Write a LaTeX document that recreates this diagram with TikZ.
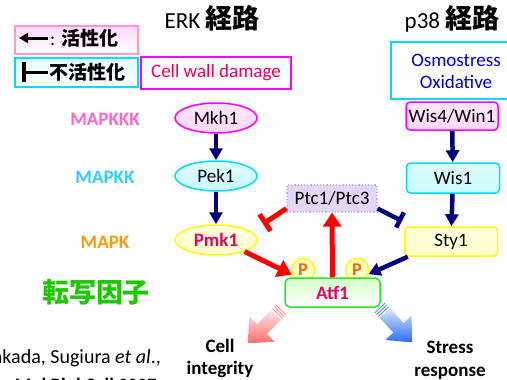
\documentclass[tikz,border=0pt]{standalone}
\usepackage{fontspec}
\setmainfont{Carlito}
\newfontfamily\jp{Noto Sans CJK JP}
\usetikzlibrary{arrows.meta,shapes.geometric,calc}
\definecolor{navyc}{RGB}{0,0,128}
\definecolor{redc}{RGB}{255,0,0}
\definecolor{crim}{RGB}{232,0,100}
\definecolor{magb}{RGB}{255,0,255}
\definecolor{pinkb}{RGB}{255,150,210}
\definecolor{cyanb}{RGB}{0,220,255}
\definecolor{yelb}{RGB}{255,255,0}
\definecolor{greenb}{RGB}{40,230,40}
\definecolor{pinkf}{RGB}{255,215,250}
\definecolor{cyanf}{RGB}{200,250,255}
\definecolor{yelf}{RGB}{255,255,200}
\definecolor{greenf}{RGB}{215,255,200}
\definecolor{lavf}{RGB}{226,214,244}
\definecolor{lavb}{RGB}{200,180,230}
\definecolor{mapkkk}{RGB}{255,102,204}
\definecolor{mapkk}{RGB}{51,204,255}
\definecolor{mapk}{RGB}{255,153,0}
\definecolor{tfgreen}{RGB}{30,200,0}
\definecolor{osmblue}{RGB}{0,0,210}
\definecolor{porange}{RGB}{255,100,0}
\definecolor{fpinkL}{RGB}{255,230,230}
\definecolor{fpinkD}{RGB}{255,110,110}
\definecolor{fblueL}{RGB}{215,230,255}
\definecolor{fblueD}{RGB}{40,110,255}
\tikzset{
  every node/.style={font=\fontsize{19}{21}\selectfont, inner sep=0pt},
  ell/.style={ellipse, minimum width=82pt, minimum height=30pt, line width=1.5pt},
  rbox/.style={rectangle, rounded corners=4pt, minimum width=93pt, minimum height=29pt, line width=1.5pt},
  navyarr/.style={draw=navyc, line width=4.5pt, -{Triangle[width=13pt,length=12pt]}},
  redarr/.style={draw=redc, line width=5pt, -{Triangle[width=18pt,length=14pt]}},
  redbar/.style={draw=redc, line width=5pt, -{Bar[width=20pt,line width=5pt]}},
  navybar/.style={draw=navyc, line width=4.5pt, -{Bar[width=17pt,line width=4.5pt]}},
  lvl/.style={font=\fontsize{19}{21}\selectfont\bfseries},
  pc/.style={circle, minimum size=23pt, draw=yelb, line width=1.5pt, fill=yelf, text=porange, font=\fontsize{18}{20}\selectfont\bfseries},
  outlbl/.style={anchor=base, font=\fontsize{19}{21}\selectfont\bfseries}
}
\begin{document}
\begin{tikzpicture}[x=1pt,y=-1pt]
\useasboundingbox (0,0) rectangle (507,380);

% legend
\node[draw=pinkb, line width=1.5pt, top color=pinkf, bottom color=white, minimum width=123pt, minimum height=28pt, anchor=north west] (leg1) at (14,25) {};
\coordinate (l1a) at (48,38);
\coordinate (l1b) at (19,38);
\draw[line width=3pt, -{Triangle[width=10pt,length=9pt]}] (l1a) -- (l1b);
\node[anchor=west] (l1t) at (50,38) {: {\jp\bfseries\fontsize{19}{21}\selectfont 活性化}};

\node[draw=cyanb, line width=1.5pt, top color=cyanf!60, bottom color=white, minimum width=123pt, minimum height=29pt, anchor=north west] (leg2) at (14,57) {};
\coordinate (l2a) at (24,62);
\coordinate (l2b) at (24,82);
\coordinate (l2c) at (25,72);
\coordinate (l2d) at (48,72);
\draw[line width=4pt] (l2a) -- (l2b);
\draw[line width=3pt] (l2c) -- (l2d);
\node[anchor=west] (l2t) at (49,72) {\jp\bfseries\fontsize{19}{21}\selectfont 不活性化};

\node[draw=magb, line width=2pt, minimum width=150pt, minimum height=32pt, text=crim] (cwd) at (216,72.5) {Cell wall damage};

% titles
\node[anchor=base] (erk) at (212,28) {\fontsize{23}{25}\selectfont ERK {\jp\bfseries\fontsize{27}{29}\selectfont 経路}};
\node[anchor=base] (p38) at (452,28) {\fontsize{23}{25}\selectfont p38 {\jp\bfseries\fontsize{27}{29}\selectfont 経路}};

% osmostress box
\node[draw=cyanb, line width=1.5pt, minimum width=125pt, minimum height=57pt, anchor=north west] (osm) at (390,41) {};
\node[text=osmblue] (osm1) at (456,60) {Osmostress};
\node[text=osmblue] (osm2) at (456,82) {Oxidative};

% level labels
\node[lvl, text=mapkkk] (lkkk) at (105,119) {MAPKKK};
\node[lvl, text=mapkk] (lkk) at (105,177) {MAPKK};
\node[lvl, text=mapk] (lk) at (105,242) {MAPK};
\node[text=tfgreen] (tf) at (96,292) {\jp\bfseries\fontsize{27}{29}\selectfont 転写因子};

% ERK nodes
\node[ell, draw=magb, top color=pinkf!60, bottom color=pinkf] (mkh) at (216,118) {Mkh1};
\node[ell, draw=cyanb, top color=cyanf!60, bottom color=cyanf] (pek) at (216,176) {Pek1};
\node[ell, draw=yelb, top color=yelf!60, bottom color=yelf, text=crim, font=\fontsize{19}{21}\selectfont\bfseries] (pmk) at (216,240) {Pmk1};

% p38 nodes
\node[rbox, draw=magb, top color=pinkf!60, bottom color=pinkf, minimum width=92pt, minimum height=28pt] (wis4) at (452,116) {Wis4/Win1};
\node[rbox, draw=cyanb, top color=cyanf!60, bottom color=cyanf, minimum height=30pt] (wis1) at (453,178) {Wis1};
\node[rbox, draw=yelb, top color=yelf!60, bottom color=yelf] (sty) at (451,241.5) {Sty1};

% Ptc
\node[rectangle, draw=lavb, dotted, line width=1.2pt, fill=lavf, minimum width=90pt, minimum height=27pt] (ptc) at (332,198.5) {Ptc1/Ptc3};

% P circles and Atf1
\node[pc] (p1) at (303,270) {P};
\node[pc] (p2) at (357,270) {P};
\node[rectangle, rounded corners=5pt, draw=greenb, line width=1.5pt, top color=greenf, bottom color=white, minimum width=95pt, minimum height=29pt, text=crim, font=\fontsize{19}{21}\selectfont\bfseries] (atf) at (332.5,292.5) {Atf1};

% arrows
\draw[navyarr] (mkh) -- (pek);
\draw[navyarr] (pek) -- (pmk);
\draw[navyarr] (wis4) -- (wis1);
\draw[navyarr] (wis1) -- (sty);
\draw[redarr] (pmk.-22) -- (p1.202);
\draw[redarr] (atf.north) -- (ptc.south);
\coordinate (pmkbar) at (263,224);
\coordinate (stybar) at (402,221);
\draw[redbar] ([yshift=4pt]ptc.south west) -- (pmkbar);
\draw[navybar] ([yshift=4pt]ptc.south east) -- (stybar);
\draw[navyarr] ([xshift=4pt]sty.south west) -- (p2.-20);

% fat output arrows
\begin{scope}[shift={(281,310)}, rotate=225]
  \shade[top color=fpinkL, bottom color=fpinkD] (7,-7) -- (27,-7) -- (27,-18) -- (47,0) -- (27,18) -- (27,7) -- (7,7) -- cycle;
  \foreach \s in {0,2.5,5} \draw[fpinkD!80, line width=0.9pt] (\s,-7) -- (\s,7);
\end{scope}
\begin{scope}[shift={(380,308)}, rotate=-47]
  \shade[top color=fblueL, bottom color=fblueD] (7,-7) -- (27,-7) -- (27,-18) -- (47,0) -- (27,18) -- (27,7) -- (7,7) -- cycle;
  \foreach \s in {0,2.5,5} \draw[fblueD!80, line width=0.9pt] (\s,-7) -- (\s,7);
\end{scope}

\node[outlbl] (ci1) at (220,352) {Cell};
\node[outlbl] (ci2) at (220,374) {integrity};
\node[outlbl] (sr1) at (450,353) {Stress};
\node[outlbl] (sr2) at (450,376) {response};

% citation
\node[anchor=base east, font=\fontsize{20}{22}\selectfont] (cit1) at (161,363) {Takada, Sugiura \textit{et al}.,};
\node[anchor=base east] (cit2) at (157,391) {\textbf{Mol Biol Cell} 2007};
\end{tikzpicture}
\end{document}
